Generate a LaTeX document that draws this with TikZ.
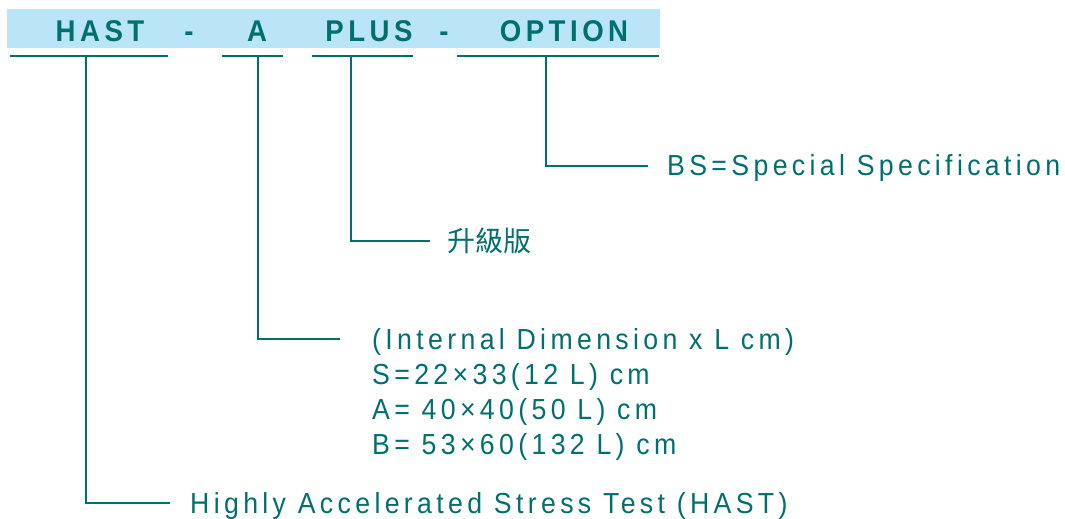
\documentclass[tikz,border=0pt]{standalone}
\usepackage{fontspec}
\setmainfont{Liberation Sans}
\newfontfamily\hdrfont[LetterSpace=15,FakeStretch=0.92]{Liberation Sans}
\newfontfamily\descfont[LetterSpace=15,FakeStretch=0.92]{Liberation Sans}
\newfontfamily\cjk{Noto Sans CJK TC}
\usetikzlibrary{positioning}
\definecolor{hastgreen}{HTML}{00706E}
\definecolor{bannerblue}{HTML}{B9E5F7}
\begin{document}
\begin{tikzpicture}[
		x=1pt, y=-1pt,
		hdr/.style={inner sep=0, anchor=base, text=hastgreen, font=\hdrfont\bfseries\fontsize{30}{30}\selectfont},
		desc/.style={inner sep=0, anchor=west, text=hastgreen, font=\descfont\fontsize{29}{35}\selectfont},
		latin/.style={desc, yshift=-2.5pt},
		lead/.style={draw=hastgreen, line width=1.6pt},
	]
	\useasboundingbox (0,0) rectangle (1065,519);
	\fill[bannerblue] (7,9) rectangle (660,48);
	% header code
	\node[hdr] (hast) at (100,42) {HAST};
	\node[hdr] (dash1) at (189,42) {-};
	\node[hdr] (model) at (257,42) {A};
	\node[hdr] (plus) at (369,42) {PLUS};
	\node[hdr] (dash2) at (444,42) {-};
	\node[hdr] (option) at (564,42) {OPTION};
	% underlines
	\coordinate (u1a) at (10,56);  \coordinate (u1b) at (168,56);
	\coordinate (u2a) at (222,56); \coordinate (u2b) at (283,56);
	\coordinate (u3a) at (312,56); \coordinate (u3b) at (413,56);
	\coordinate (u4a) at (457,56); \coordinate (u4b) at (659,56);
	\draw[lead] (u1a) -- (u1b);
	\draw[lead] (u2a) -- (u2b);
	\draw[lead] (u3a) -- (u3b);
	\draw[lead] (u4a) -- (u4b);
	% drop points and elbow ends
	\coordinate (d1) at (86,56);  \coordinate (e1) at (170,503);
	\coordinate (d2) at (258,56); \coordinate (e2) at (340,339);
	\coordinate (d3) at (351,56); \coordinate (e3) at (430,241);
	\coordinate (d4) at (546,56); \coordinate (e4) at (648,166);
	\draw[lead] (d1) |- (e1);
	\draw[lead] (d2) |- (e2);
	\draw[lead] (d3) |- (e3);
	\draw[lead] (d4) |- (e4);
	% descriptions
	\node[latin, right=20pt of e1] (hastdesc) {Highly Accelerated Stress Test (HAST)};
	\node[latin, align=left] (sizedesc) at (372,391.5) {(Internal Dimension x L cm)\\S=22×33(12 L) cm\\A= 40×40(50 L) cm\\B= 53×60(132 L) cm};
	\node[desc, right=17pt of e3, font=\cjk\fontsize{28}{28}\selectfont] (plusdesc) {升級版};
	\node[latin, right=19pt of e4] (optdesc) {BS=Special Specification};
\end{tikzpicture}
\end{document}
